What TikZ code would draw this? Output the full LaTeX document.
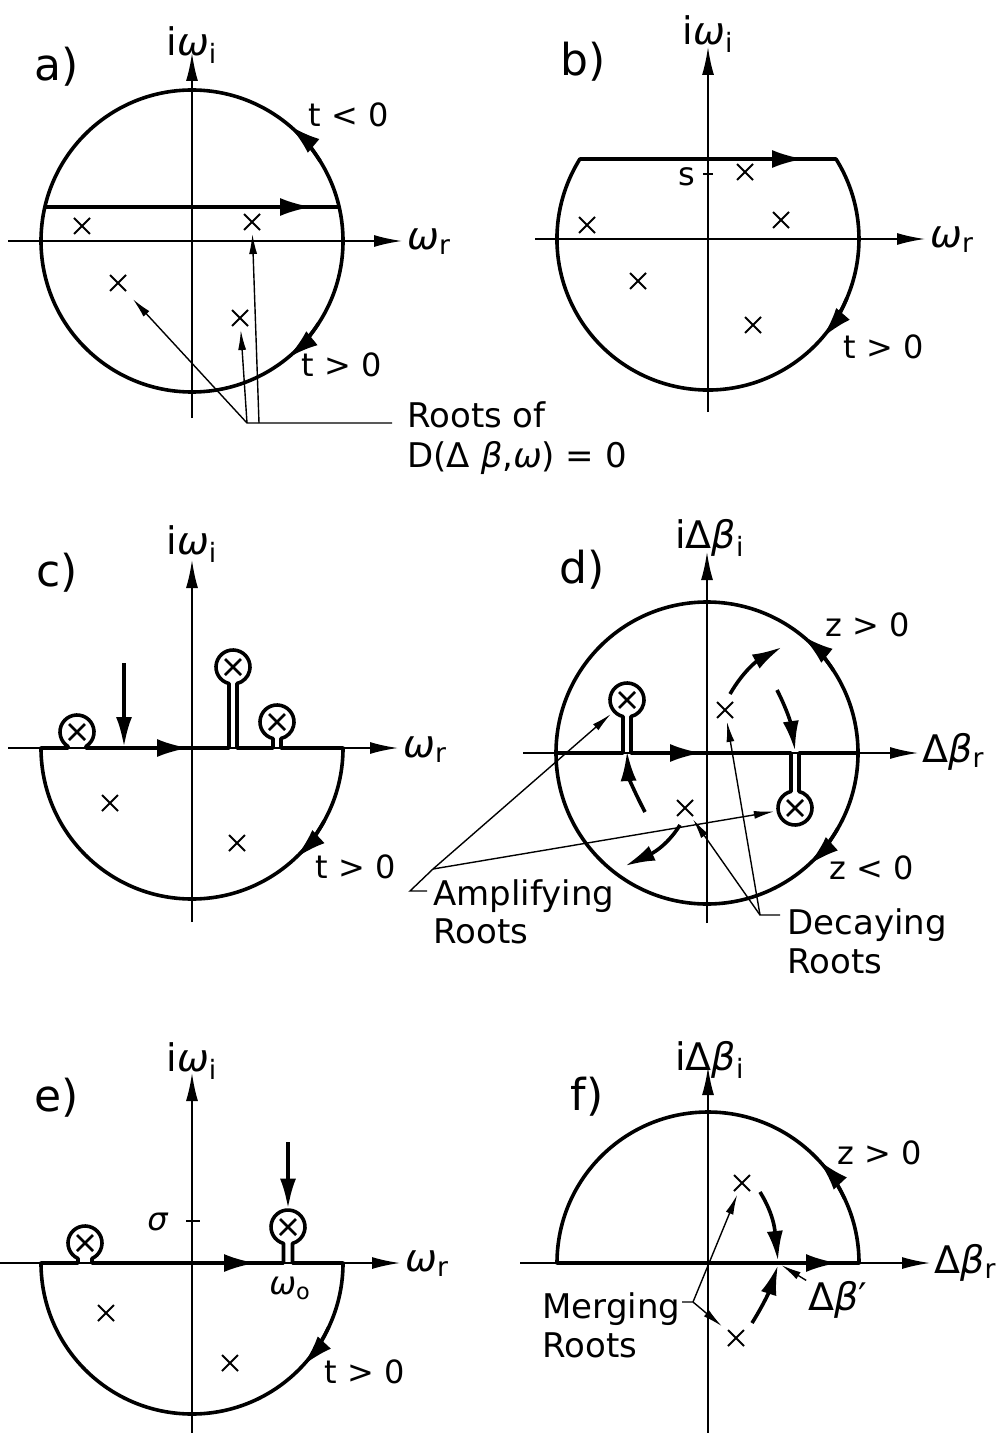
\documentclass[tikz,border=0pt]{standalone}
\usepackage{fontspec}
\setmainfont{DejaVu Sans}
\usetikzlibrary{arrows.meta,shapes.misc}
\tikzset{
  contour/.style={line width=1.8pt,line join=round},
  axisline/.style={line width=0.9pt,-{Latex[length=14pt,width=6pt]}},
  axistick/.style={line width=0.9pt},
  flowtip/.style={-{Latex[length=16pt,width=9pt]}},
  pointer/.style={line width=0.7pt,-{Latex[length=10pt,width=4pt]},shorten >=2pt},
  rootpath/.style={line width=1.8pt,-{Latex[length=15pt,width=8pt]}},
  rootmark/.style={cross out,draw,line width=1pt,minimum size=7pt,inner sep=0pt},
  polemark/.style={circle,minimum size=17pt,inner sep=0pt,
    path picture={\draw[line width=1.3pt]
      ([shift={(4.5pt,4.5pt)}]path picture bounding box.south west) -- ([shift={(-4.5pt,-4.5pt)}]path picture bounding box.north east)
      ([shift={(4.5pt,-4.5pt)}]path picture bounding box.north west) -- ([shift={(-4.5pt,4.5pt)}]path picture bounding box.south east);}},
  panellbl/.style={font=\fontsize{22}{26}\selectfont},
  axlabel/.style={font=\fontsize{19}{22}\selectfont,inner sep=1pt},
  reaxlabel/.style={axlabel,anchor=west},
  signlbl/.style={font=\fontsize{16}{19}\selectfont},
  lbl/.style={font=\fontsize{17}{20}\selectfont,inner sep=0pt,anchor=base west},
  keyup/.style n args={3}{insert path={-- ({#1-#3},0) -- ({#1-#3},{#2-sqrt(289-(#3)^2)})
    arc[start angle={270-asin(#3/17)},end angle={-90+asin(#3/17)},radius=17] -- ({#1+#3},0)}},
  keydown/.style n args={3}{insert path={-- ({#1-#3},0) -- ({#1-#3},{#2+sqrt(289-(#3)^2)})
    arc[start angle={90+asin(#3/17)},end angle={450-asin(#3/17)},radius=17] -- ({#1+#3},0)}}
}
\begin{document}
\begin{tikzpicture}[x=0.5pt,y=0.5pt]
\useasboundingbox (0,-1433) rectangle (1004,0);

\begin{scope}[shift={(192,-241)}]
  \draw[axisline] (-184,0) -- (210,0);
  \draw[axisline] (0,-177) -- (0,188);
  \node[reaxlabel] (aRe) at (213,-1) {\textit{ω}\textsubscript{r}};
  \node[axlabel] (aIm) at (0,196) {i\textit{ω}\textsubscript{i}};
  \node[panellbl] (aTag) at (-135,174) {a)};
  \draw[contour] (0,0) circle (151);
  \draw[contour] (-147,34) -- (147,34);
  \draw[contour,flowtip] (0,34) -- (120,34);
  \draw[contour,flowtip] (32:151) arc[start angle=32,end angle=50,radius=151];
  \draw[contour,flowtip] (-33:151) arc[start angle=-33,end angle=-51,radius=151];
  \node[signlbl] (aNeg) at (157,126) {t < 0};
  \node[signlbl] (aPos) at (150,-124) {t > 0};
  \node[rootmark] (a1) at (-110,15) {};
  \node[rootmark] (a2) at (60,19) {};
  \node[rootmark] (a3) at (-74,-42) {};
  \node[rootmark] (a4) at (48,-77) {};
  \coordinate (aJ) at (55,-182);
  \coordinate (aJb) at (67,-182);
  \coordinate (aEnd) at (200,-182);
  \draw[pointer,shorten >=5.5pt] (aEnd) -- (aJ) -- (a3);
  \draw[pointer] (aJ) -- (a4);
  \draw[pointer] (aJb) -- (a2);
  \node[lbl] (aRoots) at (215,-186) {Roots of};
  \node[lbl] (aRootsEq) at (215,-226) {D(Δ \textit{β},\textit{ω}) = 0};
\end{scope}

\begin{scope}[shift={(708,-239)}]
  \draw[axisline] (-173,0) -- (217,0);
  \draw[axisline] (0,-173) -- (0,192);
  \node[reaxlabel] (bRe) at (220,-1) {\textit{ω}\textsubscript{r}};
  \node[axlabel] (bIm) at (0,205) {i\textit{ω}\textsubscript{i}};
  \node[panellbl] (bTag) at (-125,177) {b)};
  \draw[contour] (-128,80) -- (128,80) arc[start angle=32,end angle=-212,radius=151] -- cycle;
  \draw[contour,flowtip] (0,80) -- (96,80);
  \draw[contour,flowtip] (-23:151) arc[start angle=-23,end angle=-41,radius=151];
  \node[signlbl] (bPos) at (176,-108) {t > 0};
  \draw[axistick] (-5,65) -- (5,65);
  \node[signlbl] (bS) at (-21,62) {s};
  \node[rootmark] (b1) at (37,67) {};
  \node[rootmark] (b2) at (73,19) {};
  \node[rootmark] (b3) at (-121,14) {};
  \node[rootmark] (b4) at (-70,-42) {};
  \node[rootmark] (b5) at (45,-86) {};
\end{scope}

\begin{scope}[shift={(192,-748)}]
  \draw[axisline] (-184,0) -- (206,0);
  \draw[axisline] (0,-174) -- (0,188);
  \node[reaxlabel] (cRe) at (209,-2) {\textit{ω}\textsubscript{r}};
  \node[axlabel] (cIm) at (0,204) {i\textit{ω}\textsubscript{i}};
  \node[panellbl] (cTag) at (-135,175) {c)};
  \draw[contour] (-151,0) [keyup={-115}{16}{9}] [keyup={41}{81}{4}] [keyup={85}{26}{4}]
    -- (151,0) arc[start angle=0,end angle=-180,radius=151] -- cycle;
  \draw[contour,flowtip] (-55,0) -- (-3,0);
  \draw[contour,flowtip] (-29:151) arc[start angle=-29,end angle=-47,radius=151];
  \node[signlbl] (cPos) at (164,-119) {t > 0};
  \node[polemark] (cP1) at (-115,16) {};
  \node[polemark] (cP2) at (41,81) {};
  \node[polemark] (cP3) at (85,26) {};
  \node[rootmark] (c1) at (-82,-55) {};
  \node[rootmark] (c2) at (45,-95) {};
  \coordinate (cDrop) at (-68,85);
  \coordinate (cHit) at (-68,1);
  \draw[rootpath] (cDrop) -- (cHit);
\end{scope}

\begin{scope}[shift={(707,-753)}]
  \draw[axisline] (-184,0) -- (211,0);
  \draw[axisline] (0,-170) -- (0,201);
  \node[reaxlabel] (dRe) at (213,1) {Δ\textit{β}\textsubscript{r}};
  \node[axlabel] (dIm) at (3,215) {iΔ\textit{β}\textsubscript{i}};
  \node[panellbl] (dTag) at (-125,183) {d)};
  \draw[contour] (0,0) circle (151);
  \draw[contour] (-151,0) [keyup={-80}{53}{4}] [keydown={88}{-55}{4}] -- (151,0);
  \draw[contour,flowtip] (-55,0) -- (-5,0);
  \draw[contour,flowtip] (33:151) arc[start angle=33,end angle=51,radius=151];
  \draw[contour,flowtip] (-30:151) arc[start angle=-30,end angle=-48,radius=151];
  \node[signlbl] (dPos) at (161,128) {z > 0};
  \node[signlbl] (dNeg) at (165,-115) {z < 0};
  \node[polemark] (dP1) at (-80,53) {};
  \node[polemark] (dP2) at (88,-55) {};
  \node[rootmark] (d1) at (18,43) {};
  \node[rootmark] (d2) at (-22,-55) {};
  \coordinate (dS1a) at (23,59);
  \coordinate (dS1b) at (75,106);
  \coordinate (dS2a) at (70,63);
  \coordinate (dS2b) at (88,2);
  \coordinate (dS3a) at (-62,-59);
  \coordinate (dS3b) at (-80,2);
  \coordinate (dS4a) at (-27,-72);
  \coordinate (dS4b) at (-82,-113);
  \draw[rootpath] (dS1a) to[out=60,in=209] (dS1b);
  \draw[rootpath] (dS2a) to[out=-63,in=98] (dS2b);
  \draw[rootpath] (dS3a) to[out=118,in=-87] (dS3b);
  \draw[rootpath] (dS4a) to[out=-122,in=25] (dS4b);
  \coordinate (dFoot) at (-297,-138);
  \coordinate (dTick) at (-280,-138);
  \coordinate (dAmp) at (-274,-116);
  \draw[pointer] (dTick) -- (dFoot) -- (dAmp) -- (dP1);
  \draw[pointer] (dAmp) -- (dP2);
  \coordinate (dDec) at (53,-162);
  \coordinate (dDecT) at (73,-162);
  \draw[pointer] (dDecT) -- (dDec) -- (d1);
  \draw[pointer] (dDec) -- (d2);
  \node[lbl] (dAmpTxt) at (-274,-152) {Amplifying};
  \node[lbl] (dAmpTxtb) at (-274,-190) {Roots};
  \node[lbl] (dDecTxt) at (80,-181) {Decaying};
  \node[lbl] (dDecTxtb) at (80,-220) {Roots};
\end{scope}

\begin{scope}[shift={(192,-1263)}]
  \draw[axisline] (-192,0) -- (208,0);
  \draw[axisline] (0,-170) -- (0,190);
  \node[reaxlabel] (eRe) at (211,-1) {\textit{ω}\textsubscript{r}};
  \node[axlabel] (eIm) at (0,202) {i\textit{ω}\textsubscript{i}};
  \node[panellbl] (eTag) at (-135,165) {e)};
  \draw[contour] (-151,0) [keyup={-107}{20}{7}] [keyup={96}{36}{4.5}]
    -- (151,0) arc[start angle=0,end angle=-180,radius=151] -- cycle;
  \draw[contour,flowtip] (10,0) -- (64,0);
  \draw[contour,flowtip] (-25:151) arc[start angle=-25,end angle=-43,radius=151];
  \node[signlbl] (ePos) at (173,-109) {t > 0};
  \node[polemark] (eP1) at (-107,20) {};
  \node[polemark] (eP2) at (96,36) {};
  \node[rootmark] (e1) at (-86,-50) {};
  \node[rootmark] (e2) at (38,-100) {};
  \coordinate (eDrop) at (96,121);
  \draw[rootpath,shorten >=0.5pt] (eDrop) -- (eP2);
  \draw[axistick] (-6,42) -- (8,42);
  \node[signlbl] (eSigma) at (-34,41) {\textit{σ}};
  \node[signlbl] (eOmega) at (98,-25) {\textit{ω}\textsubscript{o}};
\end{scope}

\begin{scope}[shift={(708,-1263)}]
  \draw[axisline] (-188,0) -- (222,0);
  \draw[axisline] (0,-170) -- (0,196);
  \node[reaxlabel] (fRe) at (224,0) {Δ\textit{β}\textsubscript{r}};
  \node[axlabel] (fIm) at (2,203) {iΔ\textit{β}\textsubscript{i}};
  \node[panellbl] (fTag) at (-121,166) {f)};
  \draw[contour] (-151,0) -- (151,0) arc[start angle=0,end angle=180,radius=151] -- cycle;
  \draw[contour,flowtip] (80,0) -- (130,0);
  \draw[contour,flowtip] (25:151) arc[start angle=25,end angle=43,radius=151];
  \node[signlbl] (fPos) at (172,110) {z > 0};
  \node[rootmark] (f1) at (34,80) {};
  \node[rootmark] (f2) at (28,-75) {};
  \coordinate (fS1a) at (52,71);
  \coordinate (fS1b) at (70,2);
  \coordinate (fS2a) at (44,-60);
  \coordinate (fS2b) at (70,-2);
  \draw[rootpath] (fS1a) to[out=-58,in=96] (fS1b);
  \draw[rootpath] (fS2a) to[out=58,in=-108] (fS2b);
  \node[axlabel] (fDb) at (130,-37) {Δ\textit{β}′};
  \coordinate (fMeet) at (70,0);
  \draw[pointer] (fDb) -- (fMeet);
  \coordinate (fJ) at (-15,-39);
  \coordinate (fJt) at (-26,-39);
  \draw[pointer] (fJt) -- (fJ) -- (f1);
  \draw[pointer,shorten >=4pt] (fJ) -- (f2);
  \node[lbl] (fMerge) at (-166,-55) {Merging};
  \node[lbl] (fMergeb) at (-166,-94) {Roots};
\end{scope}
\end{tikzpicture}
\end{document}
